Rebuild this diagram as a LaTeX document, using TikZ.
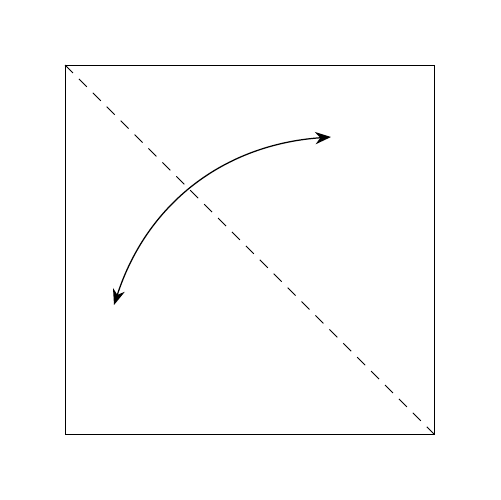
\documentclass[tikz,border=0pt]{standalone}
\usetikzlibrary{arrows.meta}
\begin{document}
\begin{tikzpicture}[x=0.02cm,y=-0.02cm,
  frame/.style={draw=black,line width=0.5pt},
  diag/.style={draw=black,line width=0.5pt,dash pattern=on 6.4pt off 4.8pt},
  turn/.style={draw=black,line width=0.7pt,{Stealth[length=9pt,width=7pt]}-{Stealth[length=9pt,width=7pt]}}]
\useasboundingbox (0,0) rectangle (500,500);
\coordinate (tl) at (65,65);
\coordinate (br) at (434,434);
\coordinate (a) at (114,305);
\coordinate (b) at (331,137);
\draw[frame] (tl) rectangle (br);
\draw[diag] (tl) -- (br);
\draw[turn] (a) to[out=72,in=184] (b);
\end{tikzpicture}
\end{document}
